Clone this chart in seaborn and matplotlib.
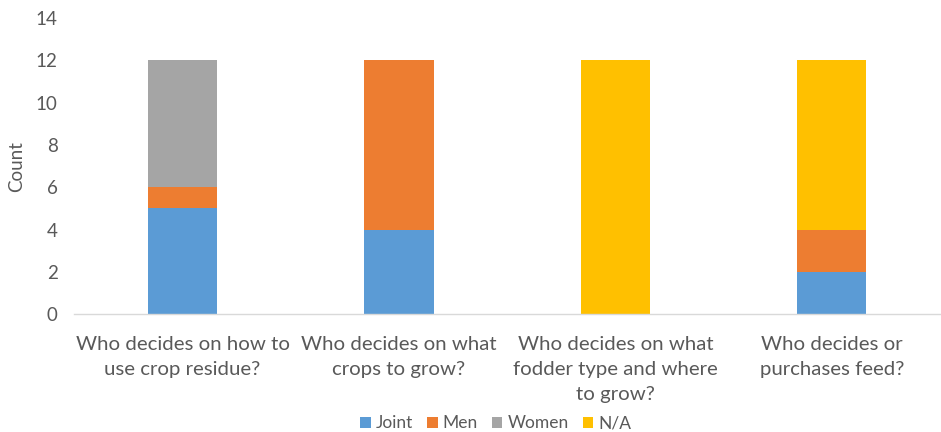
import matplotlib
matplotlib.use("Agg")
import matplotlib.pyplot as plt
import seaborn as sns
import numpy as np
import pandas as pd
from matplotlib.patches import Patch

questions = [
    "Who decides on how to\nuse crop residue?",
    "Who decides on what\ncrops to grow?",
    "Who decides on what\nfodder type and where\nto grow?",
    "Who decides or\npurchases feed?",
]
joint = [5, 4, 0, 2]
men = [1, 8, 0, 2]
women = [6, 0, 0, 0]
na = [0, 0, 12, 8]

series_names = ["Joint", "Men", "Women", "N/A"]
series_values = [joint, men, women, na]
series_colors = ["#5B9BD5", "#ED7D31", "#A5A5A5", "#FFC000"]

yticks = [0, 2, 4, 6, 8, 10, 12, 14]

sns.set_theme(style="white")
plt.rcParams["font.family"] = ["Lato", "DejaVu Sans"]
text_color = "#595959"

fig = plt.figure(figsize=(9.41, 4.32), dpi=100)
ax = fig.add_axes([0.079, 0.273, 0.92, 0.685])

bottom = np.zeros(len(questions))
for name, vals, color in zip(series_names, series_values, series_colors):
    df = pd.DataFrame({"question": questions, "count": vals})
    sns.barplot(data=df, x="question", y="count", color=color, width=0.32,
                bottom=bottom, ax=ax, saturation=1, linewidth=0)
    bottom = bottom + np.array(vals)

ax.set_ylim(0, 14)
ax.set_xlim(-0.5, 3.5)
ax.set_yticks(yticks)
ax.set_yticklabels([str(t) for t in yticks], fontsize=13.5, color=text_color)
ax.tick_params(axis="x", labelsize=14.7, labelcolor=text_color, length=0, pad=16)
for lbl in ax.get_xticklabels():
    lbl.set_linespacing(1.55)
ax.tick_params(axis="y", length=0, pad=12)
ax.set_xlabel("")
ax.set_ylabel("Count", fontsize=13.5, color=text_color, labelpad=8)

for side in ["top", "right", "left"]:
    ax.spines[side].set_visible(False)
ax.spines["bottom"].set_color("#D9D9D9")
ax.spines["bottom"].set_linewidth(1)
ax.grid(False)

handles = [Patch(facecolor=c, edgecolor="none") for c in series_colors]
fig.legend(handles, series_names, loc="lower center", ncol=4,
           bbox_to_anchor=(0.527, -0.035), frameon=False, fontsize=12.5,
           handlelength=0.6, handleheight=0.6, handletextpad=0.3,
           columnspacing=0.8, labelcolor=text_color)

fig.savefig("out.png", dpi=100)
